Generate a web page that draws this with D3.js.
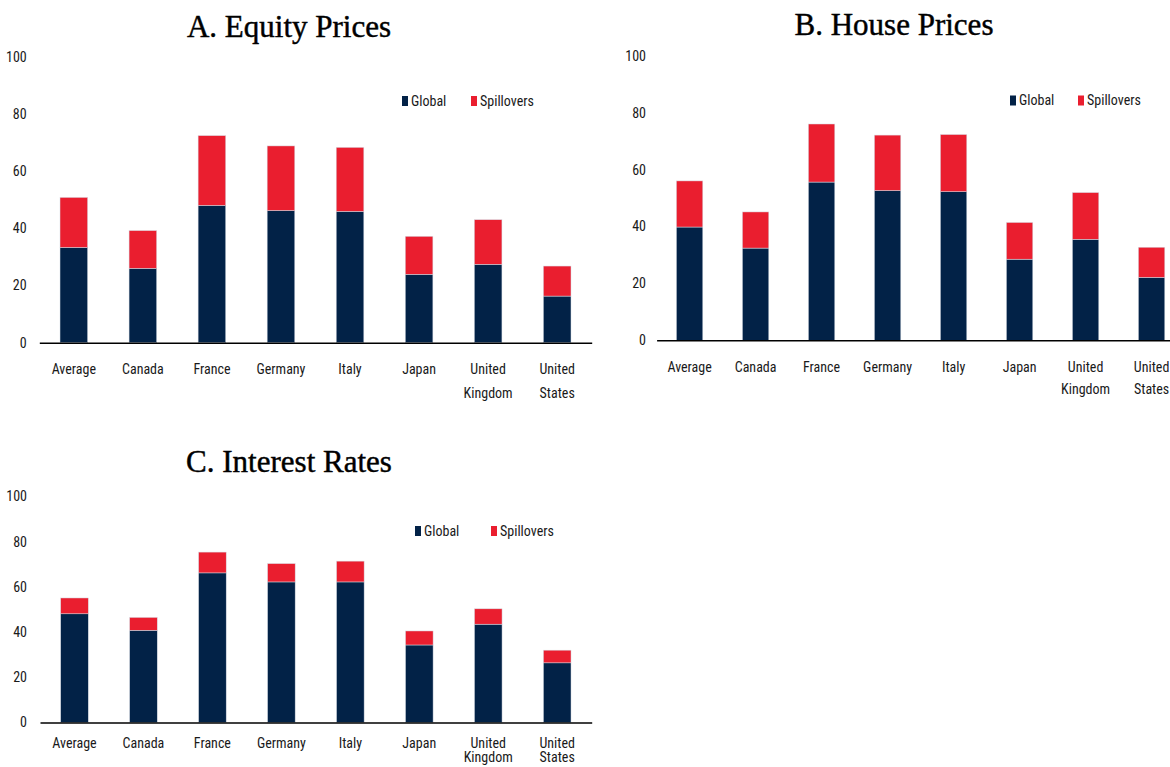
<!DOCTYPE html>
<html>
<head>
<meta charset="utf-8">
<script src="https://cdn.jsdelivr.net/npm/d3@7"></script>
<style>
  body { margin: 0; background: #fff; }
  svg { display: block; }
  .tick text, .lab, .leg { font-family: "Liberation Sans Narrow", "Roboto Condensed", "Liberation Sans", sans-serif; fill: #1a1a1a; }
  .title { font-family: "Liberation Serif", "DejaVu Serif", serif; fill: #000; }
</style>
</head>
<body>
<svg id="chart" width="1170" height="767"></svg>
<script>

var categories = ["Average", "Canada", "France", "Germany", "Italy", "Japan", "United Kingdom", "United States"];
var yTicks = [0, 20, 40, 60, 80, 100];
var seriesNames = ["Global", "Spillovers"];

// A. Equity Prices
var equityGlobal = [33.3, 26.0, 48.0, 46.2, 45.9, 23.9, 27.4, 16.3];
var equitySpill  = [17.5, 13.2, 24.4, 22.6, 22.4, 13.3, 15.6, 10.5];

// B. House Prices
var houseGlobal = [39.8, 32.4, 55.6, 52.6, 52.2, 28.5, 35.5, 22.1];
var houseSpill  = [16.2, 12.7, 20.4, 19.5, 20.1, 12.9, 16.4, 10.6];

// C. Interest Rates
var rateGlobal = [48.1, 40.8, 66.2, 62.2, 62.2, 34.3, 43.5, 26.4];
var rateSpill  = [7.0, 5.7, 9.2, 8.1, 9.2, 6.2, 6.8, 5.6];

var colors = ["#022247", "#ea1e2f"];

var svg = d3.select("#chart");

function drawPanel(cfg, global, spill) {

    var rows = categories.map(function(c, i){
        return {cat: c, Global: global[i], Spillovers: spill[i]};
    });

    var stack = d3.stack().keys(seriesNames)(rows);

    var xScale = d3.scaleBand()
        .domain(categories)
        .range([cfg.x0, cfg.x1])
        .paddingInner(0.6)
        .paddingOuter(0.3);

    var yScale = d3.scaleLinear()
        .domain([0, 100])
        .range([cfg.yBase, cfg.yTop]);

    var g = svg.append("g");

    // title
    g.append("text")
        .attr("class", "title")
        .attr("x", cfg.tx)
        .attr("y", cfg.ty)
        .attr("text-anchor", "middle")
        .attr("font-size", 31)
        .attr("stroke", "#000")
        .attr("stroke-width", 0.45)
        .text(cfg.title);

    // bars
    g.selectAll(".layer")
        .data(stack)
        .enter().append("g")
        .attr("class", "layer")
        .attr("fill", function(d, i){ return colors[i]; })
        .selectAll("rect")
        .data(function(d){ return d; })
        .enter().append("rect")
        .attr("x", function(d){ return xScale(d.data.cat); })
        .attr("y", function(d){ return yScale(d[1]); })
        .attr("width", xScale.bandwidth())
        .attr("height", function(d){ return yScale(d[0]) - yScale(d[1]); })
        .attr("stroke", "#d6dbe4")
        .attr("stroke-width", 0.5);

    // y axis, labels only
    var yAxis = d3.axisLeft(yScale).tickValues(yTicks).tickSize(0).tickPadding(0);
    var ya = g.append("g")
        .attr("transform", "translate(" + cfg.tickRight + ",0)")
        .call(yAxis);
    ya.select(".domain").remove();
    ya.selectAll("text").attr("font-size", 14).attr("fill", "#1a1a1a");

    // x axis
    var xAxis = d3.axisBottom(xScale).tickSize(0).tickSizeOuter(0);
    var xa = g.append("g")
        .attr("transform", "translate(0," + cfg.yBase + ")")
        .call(xAxis);
    xa.select(".domain").attr("stroke", "#000").attr("stroke-width", 1.6);
    xa.selectAll(".tick text").remove();

    g.selectAll(".lab")
        .data(categories)
        .enter().append("text")
        .attr("class", "lab")
        .attr("font-size", 14)
        .attr("text-anchor", "middle")
        .each(function(d){
            var parts = d.split(" ");
            var t = d3.select(this);
            parts.forEach(function(p, k){
                t.append("tspan")
                    .attr("x", xScale(d) + xScale.bandwidth() / 2)
                    .attr("y", k == 0 ? cfg.lab1 : cfg.lab2)
                    .attr("dy", "0.35em")
                    .text(p);
            });
        });

    // legend
    var lx = [cfg.legX, cfg.spillX];
    var leg = g.selectAll(".legitem")
        .data(seriesNames)
        .enter().append("g")
        .attr("class", "legitem");
    leg.append("rect")
        .attr("x", function(d, i){ return lx[i]; })
        .attr("y", cfg.legY - 5)
        .attr("width", 6)
        .attr("height", 10)
        .attr("fill", function(d, i){ return colors[i]; });
    leg.append("text")
        .attr("class", "leg")
        .attr("x", function(d, i){ return lx[i] + 9; })
        .attr("y", cfg.legY)
        .attr("dy", "0.35em")
        .attr("font-size", 14)
        .text(function(d){ return d; });
}

drawPanel({title: "A. Equity Prices", x0: 39.3, x1: 591.7, yBase: 342.7, yTop: 56.7,
           tx: 289, ty: 36.5, tickRight: 26.7, legX: 402, spillX: 471, legY: 101,
           lab1: 369, lab2: 393}, equityGlobal, equitySpill);

drawPanel({title: "B. House Prices", x0: 656.6, x1: 1184.6, yBase: 340.3, yTop: 55.7,
           tx: 894, ty: 35, tickRight: 646, legX: 1010, spillX: 1078, legY: 100.5,
           lab1: 366.7, lab2: 389.5}, houseGlobal, houseSpill);

drawPanel({title: "C. Interest Rates", x0: 40, x1: 591.7, yBase: 722.5, yTop: 496.5,
           tx: 289, ty: 472, tickRight: 27, legX: 415, spillX: 491, legY: 531,
           lab1: 743.3, lab2: 757.5}, rateGlobal, rateSpill);

</script>
</body>
</html>
